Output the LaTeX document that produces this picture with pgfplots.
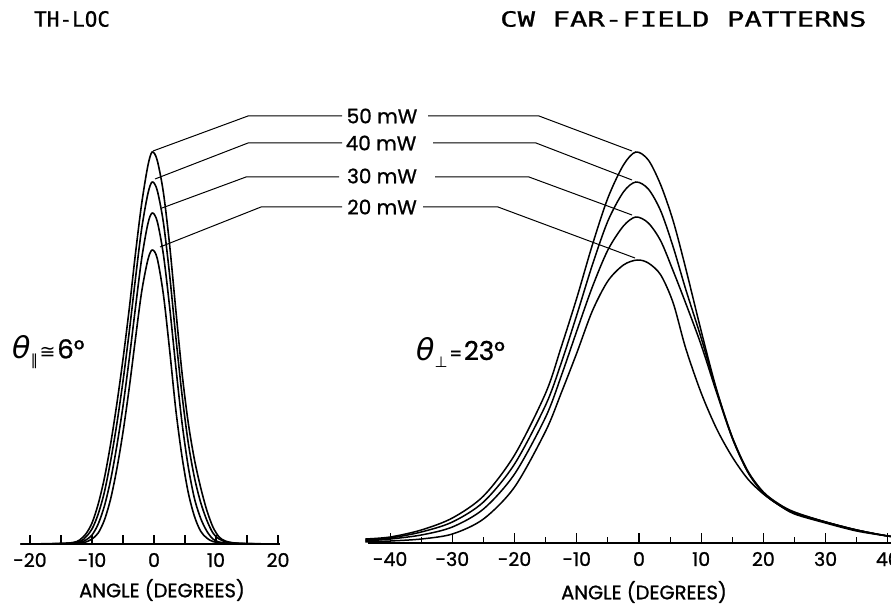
\documentclass[border=0pt]{standalone}
\usepackage{pgfplots}
\pgfplotsset{compat=1.18}
\usepackage{fontspec}
\setmainfont{Poppins}[FakeBold=1]
\newfontfamily\mono{DejaVu Sans Mono}[FakeBold=0.8]
\newfontfamily\dejavu{DejaVu Sans}
\newcommand{\tickfont}{\fontsize{19}{19}\selectfont}
\newcommand{\lblfont}{\fontsize{19.5}{19.5}\selectfont}
\begin{document}
\begin{tikzpicture}[x=1pt,y=1pt]
\useasboundingbox (0pt,0pt) rectangle (891pt,606pt);
\pgfplotsset{every axis/.append style={
  scale only axis, anchor=south west, ymin=0, ymax=400, height=400pt,
  axis x line*=bottom, axis y line=none, clip=false,
  tick align=inside, tick style={black, line width=1.1pt},
  axis line style={line width=1.6pt},
  xticklabel style={font=\tickfont, anchor=base, yshift=-23pt},
}}
% ---------- left panel ----------
\begin{axis}[at={(20.7pt,62pt)}, width=259.2pt, xmin=-21.5, xmax=20.3,
  xtick={-20,-15,...,20}, xticklabels={-20,,-10,,0,,10,,20},
  major tick length=9pt]
\addplot[smooth, line width=1.6pt] coordinates {(-21.5,0) (-15,0.5) (-13,1.5) (-12,4) (-11,10) (-10,21) (-9,40) (-8,66) (-7,100) (-6,140) (-5,185) (-4,235) (-3,290) (-2,340) (-1,378) (-0.3,392) (0.5,384) (1.5,352) (2.5,300) (3.5,235) (4.5,172) (5.5,122) (6.5,85) (7.5,57) (8.5,34) (9.5,17) (10.5,7) (11.5,3) (13,1) (15,0.4) (20.3,0)};
\addplot[smooth, line width=1.6pt] coordinates {(-21.5,0) (-15,0.4) (-12,2.5) (-11,7) (-10,15) (-9,30) (-8,52) (-7,83) (-6,120) (-5,163) (-4,212) (-3,265) (-2,315) (-1,350) (-0.3,362) (0.5,354) (1.5,322) (2.5,270) (3.5,208) (4.5,150) (5.5,102) (6.5,67) (7.5,42) (8.5,24) (9.5,11) (10.5,5) (12,1.5) (15,0.3) (20.3,0)};
\addplot[smooth, line width=1.6pt] coordinates {(-21.5,0) (-15,0.3) (-12,1.5) (-11,4) (-10,9) (-9,20) (-8,38) (-7,64) (-6,98) (-5,138) (-4,185) (-3,236) (-2,285) (-1,320) (-0.3,331) (0.5,323) (1.5,290) (2.5,238) (3.5,178) (4.5,122) (5.5,78) (6.5,46) (7.5,26) (8.5,13) (9.5,5) (10.5,2) (12,0.6) (15,0.2) (20.3,0)};
\addplot[smooth, line width=1.6pt] coordinates {(-21.5,0) (-15,0.3) (-12,1) (-11,2) (-10,5) (-9,11) (-8,24) (-7,45) (-6,75) (-5,112) (-4,156) (-3,205) (-2,252) (-1,284) (-0.3,294) (0.5,286) (1.5,250) (2.5,195) (3.5,135) (4.5,88) (5.5,52) (6.5,28) (7.5,13) (8.5,6) (9.5,2.5) (11,1) (15,0.3) (20.3,0)};
\end{axis}
% ---------- right panel ----------
\begin{axis}[at={(368.4pt,63pt)}, width=522.5pt, xmin=-43.5, xmax=40.5,
  xtick={-40,-30,...,40}, xticklabels={-40,-30,-20,-10,0,10,20,30,40},
  minor xtick={-35,-25,...,35}, major tick length=10pt, minor tick length=6pt]
\addplot[smooth, line width=1.5pt] coordinates {(-44,4) (-40,6) (-35,13) (-30,25) (-25,47) (-20,88) (-15,150) (-12.5,196) (-10,245) (-7.5,298) (-5,345) (-2.5,378) (-0.5,391) (1.5,383) (3.5,358) (5.5,322) (7.5,275) (10,212) (12.5,153) (15,106) (17.5,72) (20,51) (22.5,39) (25,31) (30,21) (35,13) (40,7) (44,4)};
\addplot[smooth, line width=1.5pt] coordinates {(-44,3) (-40,5) (-35,11) (-30,21) (-25,41) (-20,79) (-15,138) (-12.5,180) (-10,228) (-7.5,278) (-5,322) (-2.5,351) (-0.5,361) (1.5,354) (3.5,332) (5.5,296) (7.5,254) (10,205) (12.5,152) (15,105) (17.5,71) (20,50) (22.5,38) (25,30) (30,21) (35,13) (40,7) (44,4)};
\addplot[smooth, line width=1.5pt] coordinates {(-44,2) (-40,4) (-35,8) (-30,16) (-25,34) (-20,69) (-15,126) (-12.5,167) (-10,212) (-7.5,256) (-5,293) (-2.5,317) (-0.5,326) (1.5,320) (3.5,302) (5.5,272) (7.5,240) (10,198) (12.5,150) (15,105) (17.5,71) (20,50) (22.5,38) (25,30) (30,21) (35,13) (40,7) (44,4)};
\addplot[smooth, line width=1.5pt] coordinates {(-44,1) (-40,2) (-35,4) (-30,9) (-25,24) (-20,56) (-15,112) (-12.5,150) (-10,190) (-7.5,232) (-5,262) (-2.5,278) (-0.3,283) (1.5,280) (3.5,268) (5.5,240) (7.5,195) (10,150) (12.5,114) (15,86) (17.5,64) (20,49) (22.5,38) (25,29) (30,20) (35,12) (40,7) (44,4)};
\end{axis}
% ---------- leaders and labels ----------
\begin{scope}[line width=1pt]
\draw (153,455) -- (248,490) -- (342,490);
\draw (428,490) -- (539,490) -- (632,455);
\draw (155,427) -- (248,463) -- (342,463);
\draw (433,463) -- (536,463) -- (632,426);
\draw (162,398) -- (246,429) -- (339,429);
\draw (435,429) -- (529,429) -- (632,391);
\draw (160,359) -- (261,399) -- (342,399);
\draw (423,399) -- (498,399) -- (635,348);
\end{scope}
\begin{scope}[every node/.style={font=\fontsize{20}{20}\selectfont, inner sep=0pt}]
\node at (382,490) {50 mW};
\node at (381,463) {40 mW};
\node at (382,430) {30 mW};
\node at (382,399) {20 mW};
\end{scope}
\node[anchor=west, inner sep=0pt] at (12,254) {{\fontsize{30}{30}\dejavu\itshape θ}\raisebox{-7pt}{\fontsize{15}{15}\dejavu ∥}\,{\fontsize{19}{19}\dejavu ≅}\,{\fontsize{26}{26}\selectfont 6°}};
\node[anchor=west, inner sep=0pt] at (416,254) {{\fontsize{30}{30}\dejavu\itshape θ}\raisebox{-7pt}{\fontsize{15}{15}\dejavu ⊥}\,{\fontsize{18}{18}\selectfont =}\,{\fontsize{26}{26}\selectfont 23°}};
\node[anchor=west, inner sep=0pt] at (34,587) {\fontsize{21}{21}\mono TH-LOC};
\node[anchor=west, inner sep=0pt] at (500,587) {\scalebox{1.38}[1]{\fontsize{21}{21}\mono CW FAR-FIELD PATTERNS}};
\node[font=\lblfont] at (162,16) {ANGLE (DEGREES)};
\node[font=\lblfont] at (644,14) {ANGLE (DEGREES)};
\end{tikzpicture}
\end{document}
